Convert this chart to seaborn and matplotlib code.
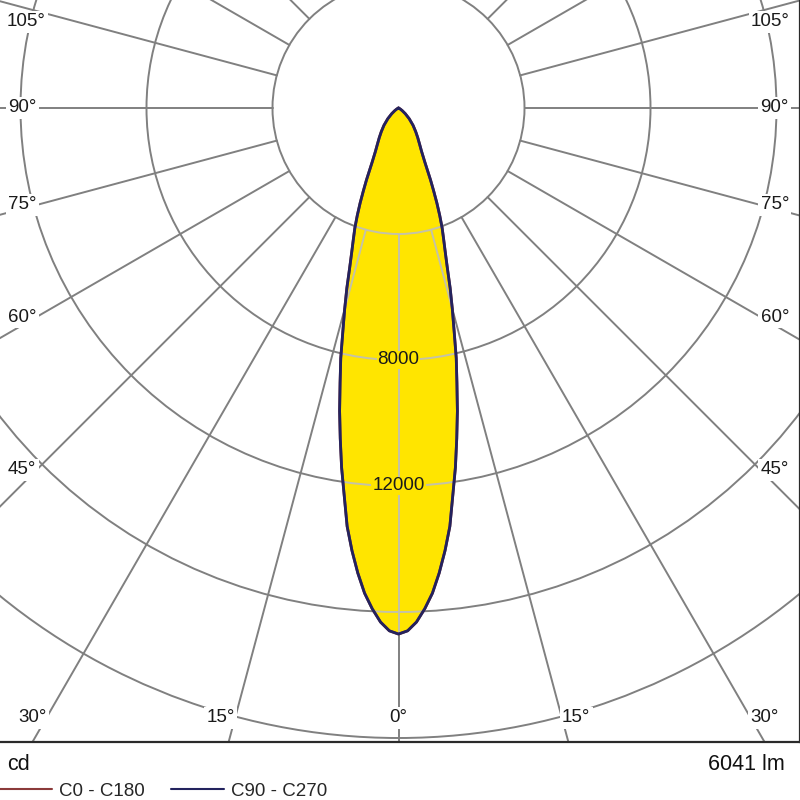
import numpy as np
import matplotlib.pyplot as plt
import matplotlib.patches as mpatches
import seaborn as sns

sns.set_style("white")
plt.rcParams['font.family'] = ['Liberation Sans', 'DejaVu Sans']

# --- data ---
# gamma angle (deg, 0 = straight down) and luminous intensity (cd)
gamma = [0, 1, 2, 3, 4, 5, 6, 7, 8, 9, 10, 11, 12, 13, 14, 15, 16, 17, 18, 19,
         20, 21, 22, 23, 24, 26, 28, 30, 33, 36, 40, 45, 50, 55, 60, 70, 80, 90, 180]
c0_c180 = [16700, 16600, 16330, 15920, 15440, 14820, 14130, 13380, 12400, 11550,
           10650, 9800, 8920, 8150, 7300, 6600, 5950, 5300, 4800, 4400,
           4050, 3650, 3250, 2850, 2500, 1900, 1560, 1350, 1120, 930,
           720, 480, 280, 140, 60, 10, 0, 0, 0]
c90_c270 = [16700, 16600, 16330, 15920, 15440, 14820, 14130, 13380, 12400, 11550,
            10650, 9800, 8920, 8150, 7300, 6600, 5950, 5300, 4800, 4400,
            4050, 3650, 3250, 2850, 2500, 1900, 1560, 1350, 1120, 930,
            720, 480, 280, 140, 60, 10, 0, 0, 0]

ring_values = [4000, 8000, 12000, 16000, 20000]
ring_labels = [8000, 12000]
side_angles = [45, 60, 75, 90, 105]
bottom_angles = [0, 15, 30]
lumen_text = "6041 lm"
unit_text = "cd"
legend_names = ["C0 - C180", "C90 - C270"]

# --- layout (pixel scale of the original diagram) ---
px = 0.0315          # pixels per cd
cx, cy = 398.5, 108  # centre of the polar grid in pixels (from top-left)
frame_bottom = 742

fig = plt.figure(figsize=(8, 8), dpi=100)
ax = fig.add_axes([0, (800 - frame_bottom) / 800, 1, frame_bottom / 800])
ax.set_xlim(-cx / px, (800 - cx) / px)
ax.set_ylim(-(frame_bottom - cy) / px, cy / px)
ax.set_xticks([])
ax.set_yticks([])
for side in ["top", "left"]:
    ax.spines[side].set_visible(False)
for side in ["bottom", "right"]:
    ax.spines[side].set_color("#2a2a2a")
    ax.spines[side].set_linewidth(1.6)

grid_col = "#808080"
inner_col = "#c4c2a8"


def draw_grid(color, zorder, clip=None):
    arts = []
    for r in ring_values:
        c = mpatches.Circle((0, 0), r, fill=False, color=color, lw=1.4, zorder=zorder)
        ax.add_patch(c)
        arts.append(c)
    for a in range(0, 360, 15):
        t = np.radians(a)
        r0, r1 = ring_values[0], 40000
        ln, = ax.plot([r0 * np.sin(t), r1 * np.sin(t)], [-r0 * np.cos(t), -r1 * np.cos(t)],
                      color=color, lw=1.4, zorder=zorder)
        arts.append(ln)
    if clip is not None:
        for art in arts:
            art.set_clip_path(clip)


draw_grid(grid_col, 1)


def curve(vals):
    g = np.radians(np.array(gamma))
    v = np.array(vals)
    xs = np.concatenate([-(v * np.sin(g))[::-1], (v * np.sin(g))[1:]])
    ys = np.concatenate([-(v * np.cos(g))[::-1], -(v * np.cos(g))[1:]])
    return xs, ys


x0, y0 = curve(c0_c180)
x90, y90 = curve(c90_c270)

fill = ax.fill(x0, y0, color="#ffe500", lw=0, zorder=2)[0]
draw_grid(inner_col, 3, clip=fill)

sns.lineplot(x=x0, y=y0, sort=False, estimator=None, color="#8b3a3a", lw=2.0, ax=ax, zorder=4)
sns.lineplot(x=x90, y=y90, sort=False, estimator=None, color="#23235e", lw=2.0, ax=ax, zorder=5)

# ring value labels on the 0 deg axis
for val in ring_labels:
    ax.text(0, -val, f"{val}", ha="center", va="center", fontsize=13.5, color="#1a1a1a",
            zorder=6, bbox=dict(boxstyle="square,pad=0.05", fc="#ffe500", ec="none"))

# angle labels at the frame edges
half_w = 362 / px
bottom_y = -(718 - cy) / px
top_y = (cy - 22) / px
lab_kw = dict(fontsize=13.5, color="#1a1a1a", va="center", zorder=6,
              bbox=dict(boxstyle="square,pad=0.12", fc="white", ec="none"))
for a in side_angles:
    t = np.radians(a)
    y = -half_w / np.tan(t) if a != 90 else 0
    if y > top_y:
        # label pushed down against the top edge, centred on the edge column
        ax.text(372 / px, top_y, f"{a}°", ha="center", **lab_kw)
        ax.text(-372 / px, top_y, f"{a}°", ha="center", **lab_kw)
        continue
    ax.text(half_w, y, f"{a}°", ha="left", **lab_kw)
    ax.text(-half_w, y, f"{a}°", ha="right", **lab_kw)
for a in bottom_angles:
    t = np.radians(a)
    x = -bottom_y * np.tan(t)
    if a == 0:
        ax.text(0, bottom_y, "0°", ha="center", **lab_kw)
    else:
        ax.text(x, bottom_y, f"{a}°", ha="left", **lab_kw)
        ax.text(-x, bottom_y, f"{a}°", ha="right", **lab_kw)

# footer
fig.text(7 / 800, 1 - 764 / 800, unit_text, fontsize=15.5, va="center", ha="left", color="#111111")
fig.text(785 / 800, 1 - 764 / 800, lumen_text, fontsize=15.5, va="center", ha="right", color="#111111")
handles = [plt.Line2D([], [], color="#8b3a3a", lw=1.5), plt.Line2D([], [], color="#23235e", lw=1.5)]
fig.legend(handles, legend_names, loc="center left", bbox_to_anchor=(-0.001, 1 - 791 / 800),
           ncol=2, frameon=False, fontsize=13.5, handlelength=2.8, handletextpad=0.4,
           columnspacing=1.4, borderpad=0, borderaxespad=0)

fig.savefig("out.png", dpi=100)
